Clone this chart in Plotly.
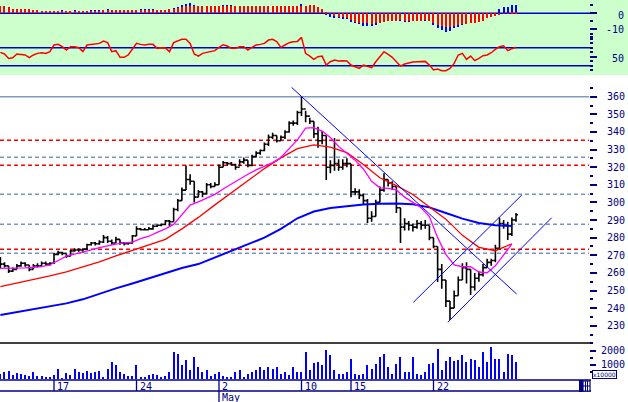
import plotly.graph_objects as go

# ---------------- data ----------------
# trading-day units: 0 = start of "17"; 4 bars per day
bar_step = 0.25
bar_start = -3.25
highs = [269,266,264,263,265,266.5,266,264.5,265,265.5,266.5,266.5,266,271.5,272.5,272,271,273,274,274,
         274,276.5,277.5,277.5,278.5,281.5,281,279,280.5,279,277.5,277.5,281.5,286.5,285.5,285.5,286,287.5,287.5,288,
         290,290,297,302,308.5,321,316,312,307,306.5,311,311,311.5,321.5,323.5,323,323,322,324.5,325.5,
         324,327,329,330,334,338.5,339.5,338,338,341,346,346.5,352,360,352,348,346,343,340.5,338,
         324,336.5,324.5,324.5,325,322,308,307.5,305,302,295,301.5,309,316.6,313,312,309,297,291,289.5,
         288,290,289.5,290,287,280,275,265,256,244,250,258,265.5,266,262,260,261,265,268,268,
         276,291.5,290,289,291.5,294]
lows = [262.5,263,260,260.5,262,263.5,263.5,261,262,263,264,264,264,265,270,270,268.5,269.5,272,272,
        271.5,273,275.5,275.5,276,277,277,276,277,276,275.5,276,276.5,281,284,284,284.5,284.5,286,286.5,
        287,286.5,289,295,301,307,310,300,303,303,304.5,308,309,310,320,321,321,318.5,320.5,322,
        320,320.5,325.5,327,329,332,336,334,335,336,339.5,343.5,344,349,345.5,344.5,336.5,331,333,312.7,
        316.5,318,318,318.5,320,303,304,302,298.5,288.3,289,292,300,306,309,307,294,277,284,284,
        283.5,285,284.5,285,278.5,274,254.8,251,240.6,233.3,240,247,256,254,247.4,250,255,258,263,264,
        266,273,285,278.6,281,289]
closes = [265,264,261,262,264,265.5,264.5,262,264,264,265.5,265,265.5,270.5,271.5,271,269.5,272.5,273,273,
          273.5,276,277,276.5,277.5,280,278,277,279,277,276.5,277,281,285,284.5,284.5,285,286.5,287,287.5,
          289.5,289,296,301,307,313,312,303,306,305,310,309,310,320,322.5,322,321.5,320,323,324,
          321,326,328,329.5,333,337,338,335,337,340,345,345,351,353,349,346,339,335,338,320,
          321,322,320,322,322,306,306,304,301,291,292,300,307,313,311,309,297,286,288,287,
          286,288,287,287,280,275,262,256,244,240,247,256,263,262,252,257,259,263,266,267,
          274,288,287,282,290,293]

# moving averages
ma_fast_start, ma_fast_step = -3.25, 0.5
ma_fast = [262.6,262.6,262.6,262.8,263.2,263.6,264.5,266.8,269.5,270.6,
           271.6,273,274.4,275.5,276.3,277,277.5,279.5,280.8,283,
           285,287.5,292.8,298.5,300.3,302.5,304.6,307.6,310.5,313.5,
           316,318.5,320.6,322.6,325.5,330.5,335.5,342.2,342.5,340.5,
           336.8,331.8,328,324,319,312,308.3,308,307.1,303,
           300,297,292,280,270.5,264.5,263.5,263.5,260.5,260.1,
           264,270.5,276.3]
ma_slow_start, ma_slow_step = -3.25, 1.0
ma_mid = [252.2,254.2,256,258.3,260.6,263.5,266.2,269.6,272.8,275.8,
          279,285,291.5,298.6,305.5,312.4,319.2,325.3,330.5,332.6,
          331.4,328.3,321.5,314,309.5,304.5,297.5,290.5,281.3,274.5,
          272.6,276.5]
ma_long = [236.1,237.8,239.4,241,242.7,245,248.3,251.2,254,256.8,
           259.8,262.8,265,268.7,272.3,276,280,285,291,294.8,
           296.8,297.8,298.8,299.3,299.4,298.9,297.2,294,290.8,288.3,
           287.1,286.6]

# trend lines (t, price)
trend_down = [(14.40, 365.3), (28.04, 248.0)]
channel_upper = [(21.78, 243.3), (28.35, 304.2)]
channel_lower = [(23.87, 232.0), (30.16, 291.3)]

# horizontal levels
level_solid = [360]
level_red = [335.3, 321.1, 273.4]
level_gray = [325.6, 304.6, 287.6, 271.1]

# oscillators
macd_red = [4.8,4.6,4.2,2.7,2.7,2.7,2.7,2.5,2.1,2.1,1.5,1.5,1.5,1.5,1.5,1.5,1.5,1.2,1.5,1.5,
            1.5,1.5,1.5,1.5,1.5,2.1,2.1,2.1,2.1,2.1,2.1,2.1,2.1,2.1,2.1,2.1,2.1,2.1,2.3,2.3,
            2.3,2.5,2.9,3.3,4.0,4.4,4.4,4.6,4.8,4.6,4.4,4.4,4.6,4.6,4.4,4.6,4.6,4.6,4.6,4.6,
            4.4,4.6,4.6,4.4,4.6,4.4,4.6,4.6,4.6,4.6,4.8,4.8,4.8,4.8,4.6,5.0,5.0,3.7,2.5,0.4,
            -0.3,-1.5,-2.1,-2.5,-3.1,-4.2,-5.2,-5.8,-6.3,-6.3,-6.7,-6.3,-5.8,-5.2,-4.8,-4.6,-4.6,-4.2,-4.6,-4.8,
            -4.6,-4.6,-4.6,-4.2,-4.6,-6.3,-7.3,-7.9,-8.75,-8.3,-7.9,-7.3,-6.9,-6.7,-6.3,-5.8,-5.4,-4.6,-3.1,-2.5,
            -1.7,-1.0,-0.4,-0.1,1.0,1.0]
macd_blue = [4.0,3.8,3.5,2.2,2.2,2.2,2.2,2.0,1.8,1.8,1.2,1.2,1.2,1.3,1.6,2.1,1.4,1.0,2.1,1.3,
             1.3,1.4,2.1,2.1,2.1,1.9,2.7,1.8,1.8,1.8,1.8,1.8,1.8,1.9,2.7,2.7,2.7,2.5,2.1,2.0,
             2.1,2.3,3.1,4.0,5.0,6.0,6.5,5.4,4.5,4.0,4.0,4.0,4.0,4.4,5.0,5.2,5.2,4.0,4.0,4.0,
             4.0,4.0,4.0,4.0,4.2,4.8,4.8,4.8,4.2,4.2,4.2,4.4,4.6,5.8,4.4,4.4,4.0,3.0,2.0,-1.0,
             -2.1,-3.1,-3.1,-3.3,-3.8,-5.2,-6.3,-6.9,-7.7,-7.9,-7.9,-7.5,-6.3,-4.6,-4.2,-3.8,-4.6,-5.0,-5.2,-5.2,
             -4.8,-5.0,-4.6,-4.6,-4.8,-7.3,-9.4,-10.4,-11.5,-11.0,-9.4,-8.3,-7.3,-6.3,-5.8,-5.4,-4.6,-3.8,-2.5,-1.7,
             -0.4,2.5,3.7,4.2,5.2,5.4]
rsi = [54.8,53,48.1,48.9,53,52.2,51.9,48.9,51.9,53.7,54.4,53.7,55.6,63,63.7,61.1,57.4,61.1,61.1,60,
       55.6,63,63.7,63.7,64.8,67.4,65.6,55.6,56.7,49.3,49.3,51.9,58.5,64.8,63.7,63,63.7,63.7,59.3,60,
       59.6,55.6,65.6,67.8,69.3,69.3,64.8,53,50.7,53.7,54.8,55.6,56.7,60.4,63.3,61.9,59.3,59.3,61.1,61.1,
       57.4,60.4,63,63.7,64.8,68.5,69.3,66.7,60.4,63,65.6,66.7,67,71.5,53.7,50.7,47,50,50.7,40.7,
       44.4,46.3,45.2,45.6,45.2,40.7,38.9,37,40.7,38.9,37.8,44.4,50.7,55.6,52.6,49.3,44.4,39.6,41.9,43.3,
       44.1,44.4,44.8,44.8,40.7,35.2,36.3,34.4,34.4,37,42.6,51.9,53.7,47,50.7,45.6,48.1,51.1,51.9,54.4,
       58.1,61.1,62.2,56.7,58.9,60.4]
rsi_levels = [60, 40]

volume = [400,510,580,280,440,350,280,210,510,210,230,160,160,280,700,120,470,280,700,510,
          470,580,470,510,580,160,750,1210,980,510,400,210,230,980,160,160,280,400,280,160,
          210,510,1910,1750,980,1330,630,1560,860,510,630,210,400,510,210,160,160,510,630,160,
          400,510,630,860,680,820,750,820,400,510,280,860,510,510,1910,630,1100,1210,980,2030,
          1680,630,400,400,510,1440,400,280,400,980,750,1050,1560,1790,860,400,1050,1560,510,510,
          1560,400,280,510,1050,1100,2100,630,1280,1560,1280,1330,1680,1210,1440,1330,860,1910,1210,2260,
          1440,1440,510,1750,1680,1210]

tick_pos = [0, 5, 10, 15, 18, 23]
tick_text = ["17", "24", "2", "10", "15", "22"]
month_pos = 10
month_text = "May"

price_ticks = list(range(230, 361, 10))
vol_ticks = [1000, 2000]

# ---------------- derived x positions ----------------
bars_t = [bar_start + bar_step * i for i in range(len(closes))]
opens = [closes[0]] + closes[:-1]
ma_fast_t = [ma_fast_start + ma_fast_step * i for i in range(len(ma_fast))]
ma_slow_t = [ma_slow_start + ma_slow_step * i for i in range(len(ma_mid))]

W, H = 628, 402
PX_DAY = 16.5
X0_PX = 54
PLOT_RIGHT = 589
x_range = [(0 - X0_PX) / PX_DAY, (PLOT_RIGHT - X0_PX) / PX_DAY]
xdom = [0, PLOT_RIGHT / W]

def py(px):
    return 1 - px / H

NAVY = "#000080"
LINEBLUE = "#0000c8"
FONT = dict(family="DejaVu Sans Mono", size=9, color=NAVY)

fig = go.Figure()

# top panel: MACD + RSI
fig.add_trace(go.Bar(x=bars_t, y=macd_blue, marker_color="#0000ff", marker_line_width=0,
                     width=0.075, xaxis="x", yaxis="y"))
fig.add_trace(go.Bar(x=bars_t, y=macd_red, marker_color="#ff0000", marker_line_width=0,
                     width=0.075, xaxis="x", yaxis="y"))
fig.add_trace(go.Scatter(x=bars_t, y=rsi, mode="lines", line=dict(color="#ff0000", width=1.5),
                         xaxis="x", yaxis="y2"))

# price panel
fig.add_trace(go.Scatter(x=ma_slow_t, y=ma_long, mode="lines", line=dict(color="#0000ff", width=2),
                         xaxis="x2", yaxis="y3"))
fig.add_trace(go.Scatter(x=ma_slow_t, y=ma_mid, mode="lines", line=dict(color="#ff0000", width=1.3),
                         xaxis="x2", yaxis="y3"))
fig.add_trace(go.Scatter(x=ma_fast_t, y=ma_fast, mode="lines", line=dict(color="#ff00ff", width=1.3),
                         xaxis="x2", yaxis="y3"))
for ln in (trend_down, channel_upper, channel_lower):
    fig.add_trace(go.Scatter(x=[p[0] for p in ln], y=[p[1] for p in ln], mode="lines",
                             line=dict(color="#0000ff", width=1), xaxis="x2", yaxis="y3"))
fig.add_trace(go.Ohlc(x=bars_t, open=opens, high=highs, low=lows, close=closes,
                      increasing=dict(line=dict(color="black", width=1.6)),
                      decreasing=dict(line=dict(color="black", width=1.6)),
                      tickwidth=0.5, xaxis="x2", yaxis="y3"))

# volume panel
fig.add_trace(go.Bar(x=bars_t, y=volume, marker_color="#0000ff", marker_line_width=0,
                     width=0.075, xaxis="x3", yaxis="y4"))

shapes = []
# green background of oscillator panel
shapes.append(dict(type="rect", xref="paper", yref="paper", x0=0, x1=1, y0=py(75), y1=1,
                   fillcolor="#ccffcc", line_width=0, layer="below"))
shapes.append(dict(type="line", xref="paper", yref="y", x0=0, x1=596 / W, y0=0, y1=0,
                   line=dict(color=LINEBLUE, width=1.6), layer="below"))
for lv in rsi_levels:
    shapes.append(dict(type="line", xref="paper", yref="y2", x0=0, x1=593 / W, y0=lv, y1=lv,
                       line=dict(color=LINEBLUE, width=1.6), layer="below"))
# price levels
for lv in level_solid:
    shapes.append(dict(type="line", xref="x2 domain", yref="y3", x0=0, x1=1, y0=lv, y1=lv,
                       line=dict(color="#7f9cc0", width=1.6), layer="below"))
for lv in level_gray:
    shapes.append(dict(type="line", xref="x2 domain", yref="y3", x0=0, x1=1, y0=lv, y1=lv,
                       line=dict(color="#7896ba", width=1.5, dash="4px,3px"), layer="below"))
for lv in level_red:
    shapes.append(dict(type="line", xref="x2 domain", yref="y3", x0=0, x1=1, y0=lv, y1=lv,
                       line=dict(color="#ff0000", width=1.5, dash="4px,3px"), layer="below"))
# volume panel frame / x axis lines
shapes.append(dict(type="line", xref="paper", yref="paper", x0=0, x1=591 / W, y0=py(343), y1=py(343),
                   line=dict(color="black", width=1.6)))
shapes.append(dict(type="line", xref="paper", yref="paper", x0=0, x1=591 / W, y0=py(380), y1=py(380),
                   line=dict(color=NAVY, width=1.6)))
shapes.append(dict(type="line", xref="paper", yref="paper", x0=0, x1=591 / W, y0=py(391), y1=py(391),
                   line=dict(color=NAVY, width=1.6)))
for tp in tick_pos:
    shapes.append(dict(type="line", xref="x3", yref="paper", x0=tp, x1=tp, y0=py(380), y1=py(391),
                       line=dict(color=NAVY, width=1.3)))
shapes.append(dict(type="line", xref="x3", yref="paper", x0=month_pos, x1=month_pos, y0=py(391), y1=py(402),
                   line=dict(color=NAVY, width=1.3)))
# small scroll icon at bottom right
shapes.append(dict(type="rect", xref="paper", yref="paper", x0=579 / W, x1=583 / W, y0=py(392), y1=py(380),
                   fillcolor=NAVY, line_width=0))
shapes.append(dict(type="rect", xref="paper", yref="paper", x0=583 / W, x1=590 / W, y0=py(391), y1=py(381),
                   fillcolor="white", line=dict(color=NAVY, width=1.2)))
for xx in (585.5, 587.5):
    shapes.append(dict(type="line", xref="paper", yref="paper", x0=xx / W, x1=xx / W, y0=py(391), y1=py(381),
                       line=dict(color=NAVY, width=1)))
shapes.append(dict(type="line", xref="paper", yref="paper", x0=583 / W, x1=590 / W, y0=py(386), y1=py(386),
                   line=dict(color=NAVY, width=1)))

annotations = []
for tp, tt in zip(tick_pos, tick_text):
    annotations.append(dict(x=tp, xref="x3", y=py(386), yref="paper", text=tt, showarrow=False,
                            xanchor="left", yanchor="middle", xshift=1, font=dict(FONT, size=10)))
annotations.append(dict(x=month_pos, xref="x3", y=py(397.5), yref="paper", text=month_text, showarrow=False,
                        xanchor="left", yanchor="middle", xshift=1, font=dict(FONT, size=10)))
annotations.append(dict(x=626 / W, xref="paper", y=0, yref="y", text="0", showarrow=False,
                        xanchor="right", yanchor="middle", yshift=-2, font=dict(FONT, size=10)))
annotations.append(dict(x=626 / W, xref="paper", y=-10, yref="y", text="-10", showarrow=False,
                        xanchor="right", yanchor="middle", font=dict(FONT, size=10)))
annotations.append(dict(x=626 / W, xref="paper", y=50, yref="y2", text="50", showarrow=False,
                        xanchor="right", yanchor="middle", yshift=-1.5, font=dict(FONT, size=10)))
annotations.append(dict(x=592 / W, xref="paper", y=py(374.5), yref="paper", text="x10000", showarrow=False,
                        xanchor="left", yanchor="middle", font=dict(family="DejaVu Sans", size=6, color=NAVY),
                        bordercolor=NAVY, borderwidth=1, borderpad=0, bgcolor="white"))

hidden_x = dict(domain=xdom, range=x_range, visible=False, showgrid=False, zeroline=False)
tick_common = dict(ticks="outside", tickcolor=NAVY, tickwidth=1.5, showline=False, showgrid=False,
                   zeroline=False, side="right", tickfont=dict(FONT, size=10))

fig.update_layout(
    width=W, height=H, margin=dict(l=0, r=0, t=0, b=0),
    paper_bgcolor="white", plot_bgcolor="rgba(0,0,0,0)",
    showlegend=False, barmode="overlay", bargap=0,
    xaxis=dict(hidden_x, anchor="y"),
    xaxis2=dict(hidden_x, anchor="y3", rangeslider=dict(visible=False)),
    xaxis3=dict(hidden_x, anchor="y4"),
    yaxis=dict(tick_common, domain=[py(75), 1], range=[-38.56, 8.31], anchor="x",
               tickvals=[0, -10], ticklen=7, showticklabels=False,
               minor=dict(tickvals=[5, -5, -15], ticklen=3, tickcolor=NAVY, tickwidth=1.5, ticks="outside")),
    yaxis2=dict(tick_common, domain=[py(75), 1], range=[29.67, 113], anchor="x", overlaying="y",
                tickvals=[50], ticklen=7, showticklabels=False,
                minor=dict(tickvals=[35, 40, 45, 55, 60, 65, 70, 75], ticklen=3, tickcolor=NAVY,
                           tickwidth=1.5, ticks="outside")),
    yaxis3=dict(tick_common, domain=[py(342), py(80)], range=[220.78, 369.48], anchor="x2",
                tickvals=price_ticks, ticklen=7, ticklabelstandoff=8,
                minor=dict(tickvals=[v + 5 for v in range(220, 361, 10)], ticklen=3, tickcolor=NAVY,
                           tickwidth=1.5, ticks="outside")),
    yaxis4=dict(tick_common, domain=[py(379.3), py(343)], range=[0, 2521], anchor="x3",
                tickvals=vol_ticks, ticklen=6, ticklabelstandoff=3,
                minor=dict(tickvals=[500, 1500, 2500], ticklen=3, tickcolor=NAVY, tickwidth=1.5,
                           ticks="outside")),
    shapes=shapes, annotations=annotations,
)

fig.write_html("out.html")
